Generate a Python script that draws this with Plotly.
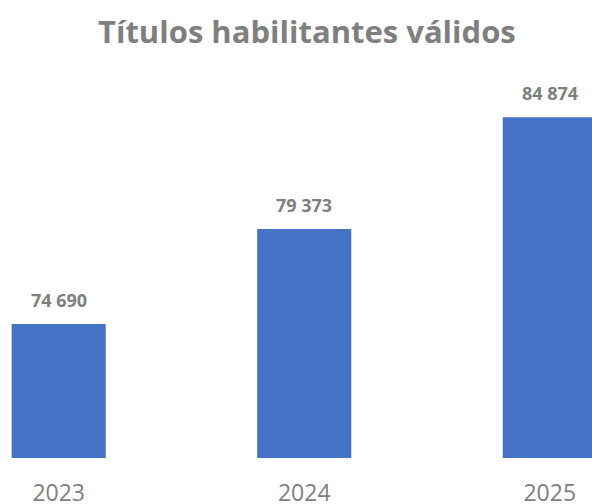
import plotly.graph_objects as go

years = ["2023", "2024", "2025"]
values = [74690, 79373, 84874]

BAR_COLOR = "#4472C4"
TEXT_GRAY = "#7F7F7F"

fig = go.Figure()
fig.add_trace(go.Bar(
    x=years, y=values,
    marker=dict(color=BAR_COLOR, line=dict(width=0)),
    hoverinfo="skip",
))

for i, v in enumerate(values):
    fig.add_annotation(
        x=i, y=v, xref="x", yref="y",
        text="<b>" + f"{v:,}".replace(",", " ") + "</b>",
        showarrow=False, yanchor="middle", yshift=24,
        font=dict(family="Open Sans", size=18, color=TEXT_GRAY),
    )

fig.add_annotation(
    x=307 / 592, y=1, xref="paper", yref="paper",
    yanchor="middle", xanchor="center",
    yshift=60 - 31,
    text="<b>Títulos habilitantes válidos</b>",
    showarrow=False,
    font=dict(family="Open Sans", size=31, color=TEXT_GRAY),
)

fig.update_layout(
    width=592, height=504,
    margin=dict(l=0, r=0, t=60, b=46, autoexpand=False),
    paper_bgcolor="white", plot_bgcolor="white",
    bargap=0.617,
    showlegend=False,
    xaxis=dict(
        type="category",
        range=[-0.239, 2.172],
        showgrid=False, zeroline=False, showline=False,
        ticks="", ticklabelstandoff=19,
        tickfont=dict(family="Open Sans", size=23, color=TEXT_GRAY),
        automargin=False,
    ),
    yaxis=dict(
        range=[68100, 87687],
        visible=False, showgrid=False, zeroline=False,
        automargin=False,
    ),
)

fig.write_html(
    "out.html",
    config={"displayModeBar": False, "staticPlot": True},
    post_script="document.body.style.margin='0';document.body.style.overflow='hidden';",
)
